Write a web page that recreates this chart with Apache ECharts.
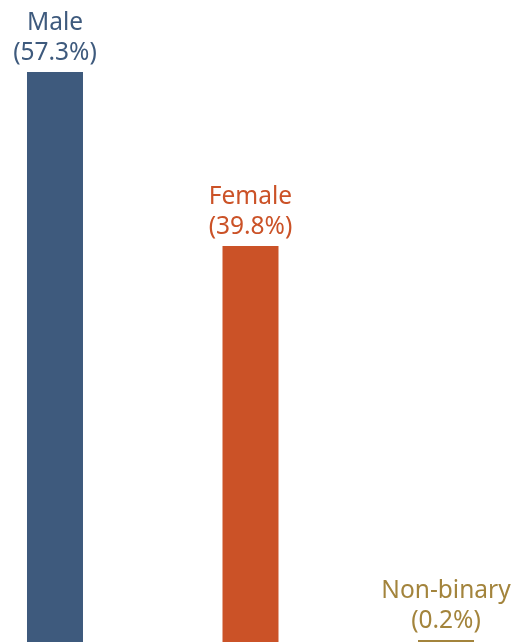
<!DOCTYPE html>
<html><head><meta charset="utf-8">
<script src="https://cdn.jsdelivr.net/npm/echarts@6/dist/echarts.min.js"></script>
<style>html,body{margin:0;padding:0;background:#fff}#c{width:521px;height:642px}</style>
</head><body><div id="c"></div>
<script>
const categories = ['Male', 'Female', 'Non-binary'];
const values = [57.3, 39.8, 0.2];
const colors = ['#3E5A7D', '#CB5227', '#A3843C'];

const chart = echarts.init(document.getElementById('c'));
chart.setOption({
  animation: false,
  grid: { left: 0, right: 0, top: 0, bottom: 0 },
  xAxis: { type: 'value', min: -0.2813, max: 2.3836, show: false },
  yAxis: { type: 'value', min: 0, max: 64.54, show: false },
  series: [{
    type: 'bar',
    barWidth: 56,
    data: values.map((v, i) => ({ value: [i, v], name: categories[i], itemStyle: { color: colors[i] }, label: { color: colors[i] } })),
    label: {
      show: true, position: 'top', distance: 4,
      fontFamily: 'Noto Sans', fontSize: 24.5, lineHeight: 30,
      formatter: p => p.name + '\n(' + p.value[1] + '%)'
    }
  }]
});
</script></body></html>
